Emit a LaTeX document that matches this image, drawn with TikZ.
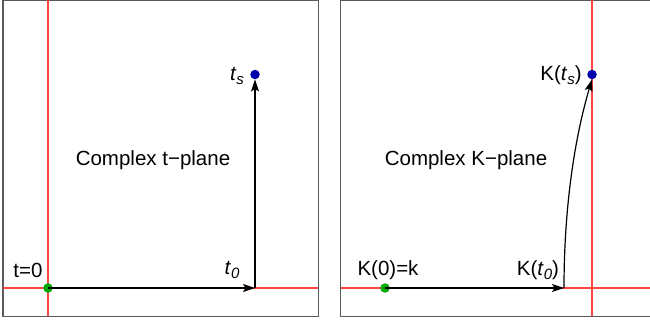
\documentclass[tikz,border=0pt]{standalone}
\usepackage{fontspec}
\setmainfont{Liberation Sans}
\usetikzlibrary{arrows.meta}
\definecolor{axisred}{RGB}{255,70,70}
\definecolor{dotgreen}{RGB}{0,170,0}
\definecolor{dotblue}{RGB}{0,0,170}
\definecolor{framegray}{RGB}{90,90,90}
\newcommand{\sbs}[1]{\raisebox{-0.35ex}{\fontsize{15}{17}\selectfont\itshape #1}}
\tikzset{
  frameline/.style={draw=framegray, line width=1.3pt},
  axisline/.style={draw=axisred, line width=1.3pt},
  pathline/.style={draw=black, line width=1.2pt, -{Stealth[length=12pt,width=8pt,inset=2.5pt]}},
  dot/.style={circle, inner sep=0pt, minimum size=9.5pt},
  lbl/.style={font=\fontsize{20.5}{24}\selectfont, inner sep=0pt}
}
\begin{document}
\begin{tikzpicture}[x=1pt,y=-1pt]
\useasboundingbox (0,0) rectangle (650,327);
% frames
\draw[frameline] (3,0.6) rectangle (318.3,316.5);
\draw[frameline] (651,0.6) -- (340.7,0.6) -- (340.7,316.5) -- (651,316.5);
% left axes
\draw[axisline] (48,0) -- (48,316);
\draw[axisline] (3,288) -- (318,288);
% right axes
\draw[axisline] (592,0) -- (592,316);
\draw[axisline] (341,288) -- (650,288);
% left points
\node[dot, fill=dotgreen] (g1) at (48,288) {};
\node[dot, fill=dotblue] (b1) at (255,74.5) {};
\coordinate (c1) at (255,288);
\draw[pathline] (g1.center) -- (c1);
\draw[pathline] (c1) -- (b1.south);
% right points
\node[dot, fill=dotgreen] (g2) at (385,288) {};
\node[dot, fill=dotblue] (b2) at (592,74.5) {};
\coordinate (c2) at (564,288);
\draw[pathline] (g2.center) -- (c2);
\draw[pathline] (c2) .. controls (564,210) and (574,140) .. (b2.south);
% labels
\node[lbl] (l1) at (28,270) {t=0};
\node[lbl] (l2) at (232,270) {\textit{t}\sbs{0}};
\node[lbl] (l3) at (237,76) {\textit{t}\sbs{s}};
\node[lbl] (l4) at (153,160) {Complex t−plane};
\node[lbl] (r1) at (388,270) {K(0)=k};
\node[lbl] (r2) at (538,270) {K(\textit{t}\sbs{0})};
\node[lbl] (r3) at (561,75) {K(\textit{t}\sbs{s})};
\node[lbl] (r4) at (466,160) {Complex K−plane};
\end{tikzpicture}
\end{document}
